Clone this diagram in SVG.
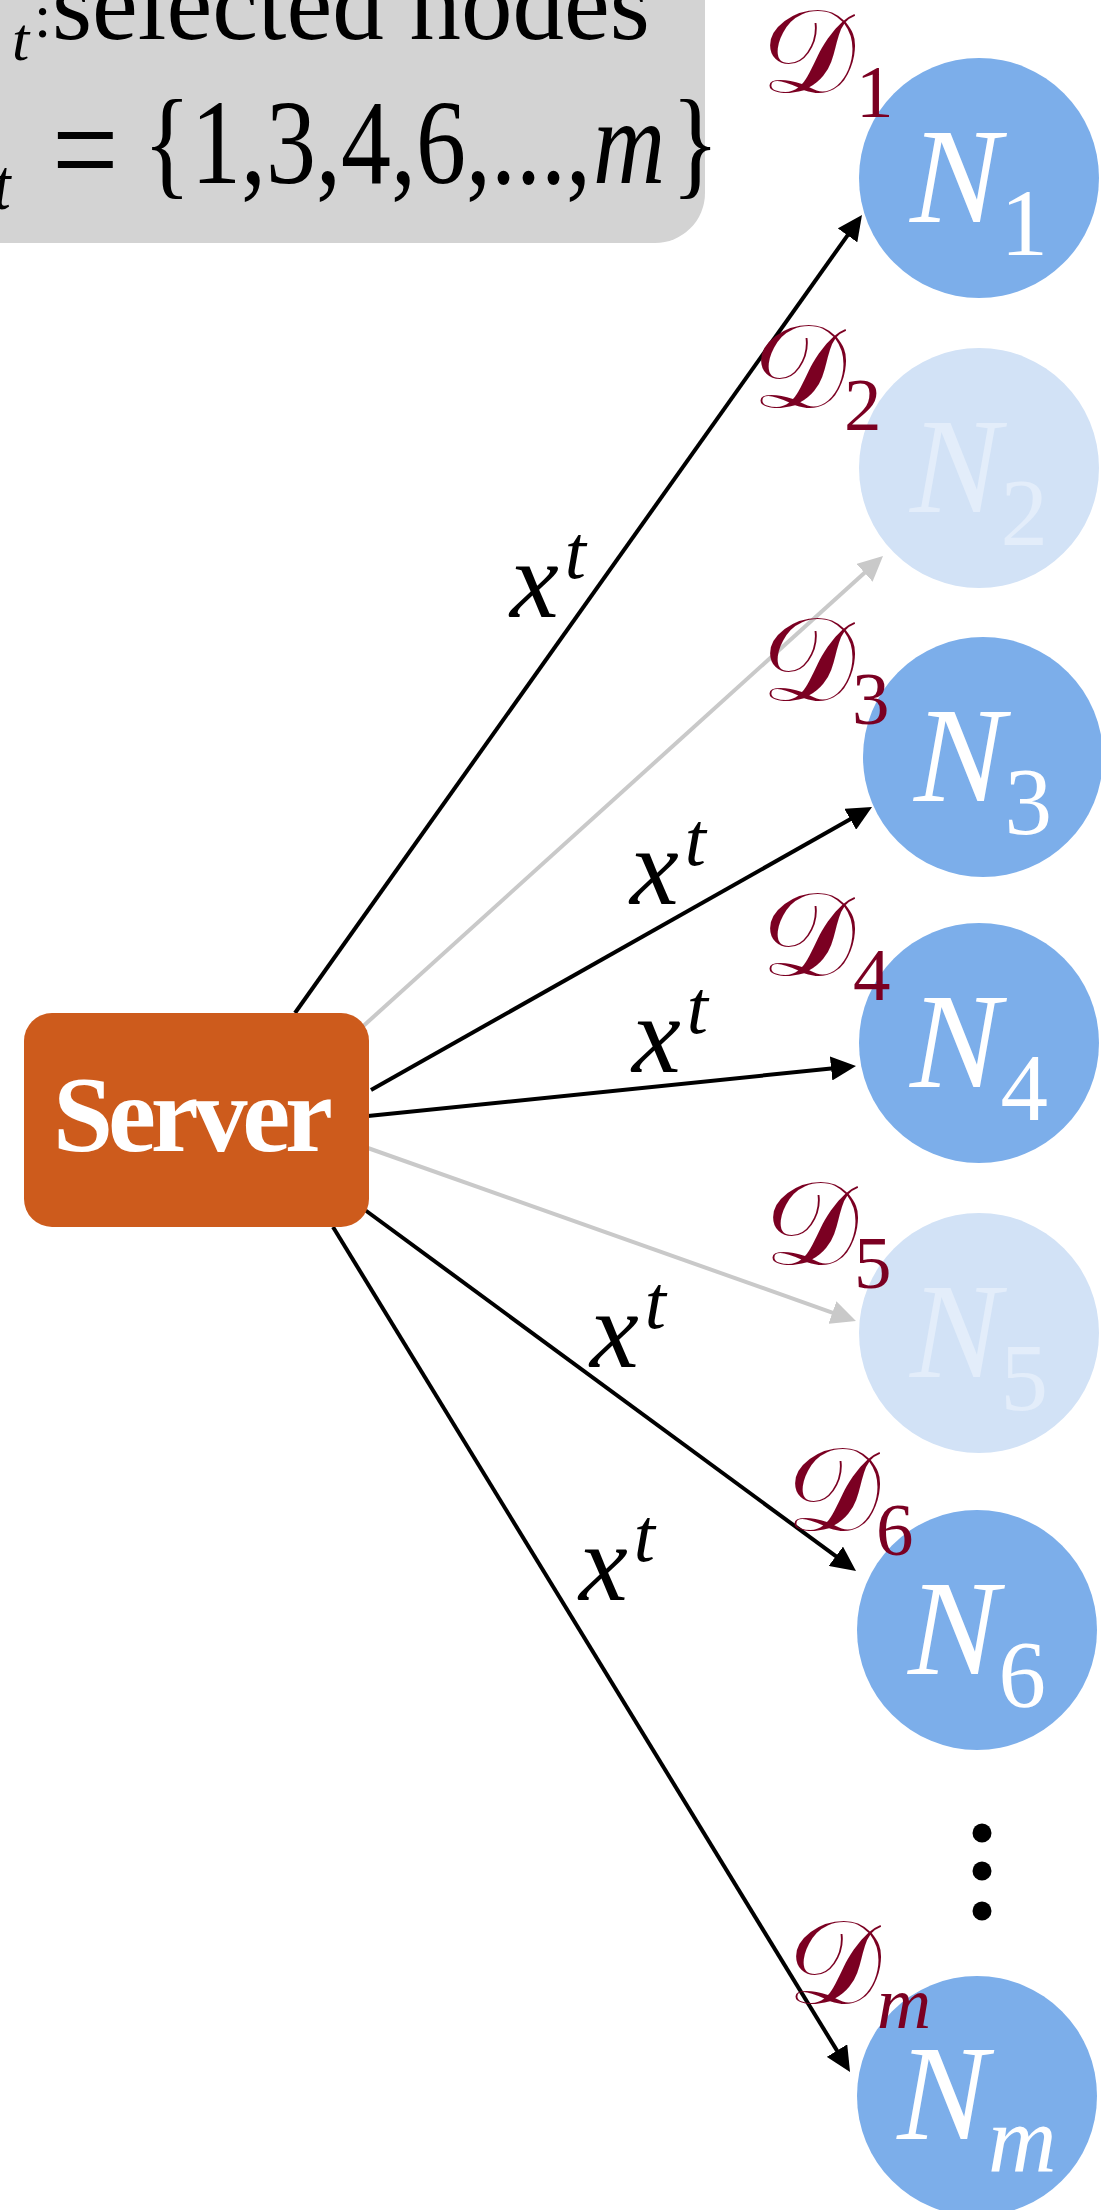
<svg xmlns="http://www.w3.org/2000/svg" width="1101" height="2210" viewBox="0 0 1101 2210">
  <style>
    text { font-family: "Liberation Serif", "Times New Roman", serif; }
    .it { font-style: italic; }
    .title { font-size: 100px; fill: #000; }
    .node { fill: #7caeea; }
    .off .node { fill: #d2e2f6; }
    .nlab { fill: #ffffff; font-size: 136px; }
    .off .nlab { fill: #e3edfa; }
    .sub { font-size: 95px; }
    .dset { fill: #7b0022; font-size: 75px; }
    .cal { font-family: "DejaVu Serif", "DejaVu Sans", serif; font-size: 118px; }
    .edge { stroke: #000; stroke-width: 4; fill: none; }
    .edge.off { stroke: #c9c9c9; }
    .xt { font-size: 110px; font-style: italic; fill: #000; }
    .sup { font-size: 76px; }
  </style>
  <defs>
    <marker id="arrow" markerUnits="userSpaceOnUse" markerWidth="25" markerHeight="24" viewBox="0 0 25 24" refX="5" refY="12" orient="auto">
      <path d="M0,0 L25,12 L0,24 z" fill="#000"/>
    </marker>
    <marker id="arrow-off" markerUnits="userSpaceOnUse" markerWidth="25" markerHeight="24" viewBox="0 0 25 24" refX="5" refY="12" orient="auto">
      <path d="M0,0 L25,12 L0,24 z" fill="#c9c9c9"/>
    </marker>
  </defs>

  <rect width="1101" height="2210" fill="#ffffff"/>

  <!-- selected-set legend -->
  <g id="legend">
    <rect x="-60" y="-60" width="765" height="303" rx="50" fill="#d3d3d3"/>
    <text class="title" y="39"><tspan class="cal" x="-95">𝒮</tspan><tspan class="it" font-size="62" x="12" y="60">t</tspan><tspan x="34" y="37" font-size="62">:</tspan><tspan x="52" y="39" font-size="103">selected nodes</tspan></text>
    <text class="title" transform="translate(0,183) scale(1,1.2)"><tspan class="cal" x="-110" y="0">𝒮</tspan><tspan class="it" font-size="60" x="-6" y="22">t</tspan><tspan x="52" y="12" font-size="118">=</tspan><tspan x="143" y="0">{1,3,4,6,...,</tspan><tspan class="it" dx="2">m</tspan><tspan dx="6">}</tspan></text>
  </g>

  <!-- broadcast connectors -->
  <g id="connectors">
    <line class="edge" x1="295" y1="1013" x2="850.4" y2="231.3" marker-end="url(#arrow)"/>
    <line class="edge off" x1="360" y1="1029" x2="868.2" y2="569.4" marker-end="url(#arrow-off)"/>
    <line class="edge" x1="371" y1="1090" x2="854.6" y2="816.8" marker-end="url(#arrow)"/>
    <line class="edge" x1="368" y1="1116" x2="836.1" y2="1068.0" marker-end="url(#arrow)"/>
    <line class="edge off" x1="365" y1="1147" x2="837.1" y2="1314.3" marker-end="url(#arrow-off)"/>
    <line class="edge" x1="365" y1="1210" x2="839.9" y2="1559.2" marker-end="url(#arrow)"/>
    <line class="edge" x1="333" y1="1227" x2="839.6" y2="2054.9" marker-end="url(#arrow)"/>
    <text class="xt" x="510" y="617">x<tspan class="sup" dx="6" dy="-39">t</tspan></text>
    <text class="xt" x="630" y="904">x<tspan class="sup" dx="6" dy="-39">t</tspan></text>
    <text class="xt" x="632" y="1072">x<tspan class="sup" dx="6" dy="-39">t</tspan></text>
    <text class="xt" x="590" y="1367">x<tspan class="sup" dx="6" dy="-39">t</tspan></text>
    <text class="xt" x="579" y="1600">x<tspan class="sup" dx="6" dy="-39">t</tspan></text>
  </g>

  <!-- server -->
  <g id="server">
    <rect x="24" y="1013" width="345" height="214" rx="28" fill="#cd5b1c"/>
    <text x="193" y="1151" text-anchor="middle" font-size="108" font-weight="bold" fill="#ffffff" textLength="280" lengthAdjust="spacing">Server</text>
  </g>

  <!-- client nodes with their local datasets -->
  <g id="node-1">
    <circle class="node" cx="979" cy="178" r="120"/>
    <text class="nlab" x="979" y="222" text-anchor="middle"><tspan class="it">N</tspan><tspan class="sub" dy="33">1</tspan></text>
    <text class="dset" x="761" y="92"><tspan class="cal">𝒟</tspan><tspan x="856" y="117">1</tspan></text>
  </g>
  <g id="node-2" class="off">
    <circle class="node" cx="979" cy="468" r="120"/>
    <text class="nlab" x="979" y="512" text-anchor="middle"><tspan class="it">N</tspan><tspan class="sub" dy="33">2</tspan></text>
    <text class="dset" x="752" y="407"><tspan class="cal">𝒟</tspan><tspan x="844" y="430">2</tspan></text>
  </g>
  <g id="node-3">
    <circle class="node" cx="983" cy="757" r="120"/>
    <text class="nlab" x="983" y="801" text-anchor="middle"><tspan class="it">N</tspan><tspan class="sub" dy="33">3</tspan></text>
    <text class="dset" x="761" y="700"><tspan class="cal">𝒟</tspan><tspan x="852" y="724">3</tspan></text>
  </g>
  <g id="node-4">
    <circle class="node" cx="979" cy="1043" r="120"/>
    <text class="nlab" x="979" y="1087" text-anchor="middle"><tspan class="it">N</tspan><tspan class="sub" dy="33">4</tspan></text>
    <text class="dset" x="761" y="975"><tspan class="cal">𝒟</tspan><tspan x="853" y="1000">4</tspan></text>
  </g>
  <g id="node-5" class="off">
    <circle class="node" cx="979" cy="1333" r="120"/>
    <text class="nlab" x="979" y="1377" text-anchor="middle"><tspan class="it">N</tspan><tspan class="sub" dy="33">5</tspan></text>
    <text class="dset" x="764" y="1264"><tspan class="cal">𝒟</tspan><tspan x="854" y="1288">5</tspan></text>
  </g>
  <g id="node-6">
    <circle class="node" cx="977" cy="1630" r="120"/>
    <text class="nlab" x="977" y="1674" text-anchor="middle"><tspan class="it">N</tspan><tspan class="sub" dy="33">6</tspan></text>
    <text class="dset" x="786" y="1530"><tspan class="cal">𝒟</tspan><tspan x="876" y="1555">6</tspan></text>
  </g>
  <g id="ellipsis">
    <circle cx="982" cy="1833" r="9.5" fill="#000"/>
    <circle cx="982" cy="1871" r="9.5" fill="#000"/>
    <circle cx="982" cy="1911" r="9.5" fill="#000"/>
  </g>
  <g id="node-m">
    <circle class="node" cx="977" cy="2096" r="120"/>
    <text class="nlab" x="977" y="2139" text-anchor="middle"><tspan class="it">N</tspan><tspan class="sub it" dy="33">m</tspan></text>
    <text class="dset" x="787" y="2003"><tspan class="cal">𝒟</tspan><tspan class="it" x="877" y="2028">m</tspan></text>
  </g>
</svg>
